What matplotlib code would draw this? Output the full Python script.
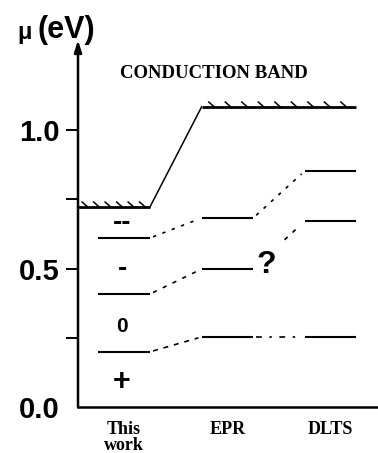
import numpy as np
import matplotlib
matplotlib.use("Agg")
import matplotlib.pyplot as plt

# ---- data ----
columns = ["This\nwork", "EPR", "DLTS"]
col_x = [1, 2, 3]
band_edge = [0.722, 1.083, 1.083]
levels_this = [0.610, 0.408, 0.199]
levels_epr = [0.682, 0.498, 0.253]
levels_dlts = [0.852, 0.671, 0.253]
charge_labels = ["--", "-", "0", "+"]
charge_y = [0.664, 0.498, 0.289, 0.09]
ytick_vals = [0.0, 0.25, 0.5, 0.75, 1.0]
ytick_labels = ["0.0", "", "0.5", "", "1.0"]

SANS = "Liberation Sans"
SERIF = "Liberation Serif"

fig = plt.figure(figsize=(3.78, 4.53), dpi=100)
ax = fig.add_axes([78/378, 46/453, 1 - 78/378, (407-40)/453])
ax.set_xlim(0.553, 3.46)
ax.set_ylim(0, 1.325)

hw = 0.25  # level half width
levels = [levels_this, levels_epr, levels_dlts]

# levels
for xc, lv in zip(col_x, levels):
    for y in lv:
        ax.plot([xc - hw, xc + hw], [y, y], color="black", lw=1.5, solid_capstyle="butt")

# connectors
styles = [[(0, (2, 4)), (0, (2, 4))],
          [(0, (2.5, 4)), (0, (2.5, 4))],
          [(0, (3, 3.5)), (0, (3.5, 4.5, 1.5, 4.5))]]
for r in range(3):
    for c in range(2):
        x0, x1 = col_x[c] + hw, col_x[c + 1] - hw
        y0, y1 = levels[c][r], levels[c + 1][r]
        if r == 1 and c == 1:
            # partial, after the "?"
            t0 = 0.55
            x0, y0 = x0 + t0 * (x1 - x0), y0 + t0 * (y1 - y0)
            x1, y1 = x1 - 0.02, y1 - 0.02 * (y1 - y0) / (x1 - x0)
        ax.plot([x0 + 0.03, x1 - 0.03], [y0 + (y1 - y0) * 0.03 / (x1 - x0), y1 - (y1 - y0) * 0.03 / (x1 - x0)],
                color="black", lw=1.2, linestyle=styles[r][c])

# conduction band
xl = ax.get_xlim()[0]
ax.plot([xl, col_x[0] + hw], [band_edge[0]] * 2, color="black", lw=2, solid_capstyle="butt")
ax.plot([col_x[0] + hw, col_x[1] - hw], [band_edge[0], band_edge[1]], color="black", lw=1.1)
ax.plot([col_x[1] - hw, col_x[2] + hw], [band_edge[1], band_edge[2]], color="black", lw=2, solid_capstyle="butt")

# hatch marks above band
def hatches(xa, xb, y, n):
    for xs in np.linspace(xa, xb, n):
        ax.plot([xs, xs + 0.055], [y + 0.018, y], color="black", lw=1.1)

hatches(xl + 0.04, col_x[0] + hw - 0.1, band_edge[0], 6)
hatches(col_x[1] - hw + 0.07, col_x[2] + hw - 0.15, band_edge[1], 9)

# charge-state labels
for lab, y in zip(charge_labels, charge_y):
    fs = {"--": 20, "-": 20, "0": 15, "+": 22}[lab]
    ax.text(col_x[0] - 0.02, y, lab, ha="center", va="center", fontsize=fs,
            fontweight="heavy", family=SANS)

ax.text(2.38, levels_epr[1] + 0.015, "?", ha="center", va="center", fontsize=23,
        fontweight="bold", family=SANS)

ax.text(1.87, 1.205, "CONDUCTION BAND", ha="center", va="center", fontsize=13.5,
        fontweight="bold", family=SERIF)

# axes styling
for s in ["top", "right", "left"]:
    ax.spines[s].set_visible(False)
ax.spines["bottom"].set_linewidth(1.8)
ax.annotate("", xy=(0, 1.0), xytext=(0, 0), xycoords="axes fraction",
            arrowprops=dict(arrowstyle="-|>,head_length=0.7,head_width=0.22",
                            lw=1.8, color="black", shrinkA=0, shrinkB=0))

ax.set_yticks(ytick_vals)
ax.set_yticklabels(ytick_labels, fontsize=21, fontweight="bold", family=SANS)
ax.tick_params(axis="y", length=9, width=1.4, direction="out", pad=4)
ax.yaxis.get_major_ticks()[0].tick1line.set_visible(False)

ax.set_xticks(col_x)
ax.set_xticklabels(columns, fontsize=13, fontweight="bold", family=SERIF)
ax.tick_params(axis="x", length=0, pad=10)
ax.get_xticklabels()[0].set_linespacing(0.95)

# y-axis unit label
fig.text(25/378, 1 - 32/453, "μ", fontsize=17, fontweight="bold", family=SANS, ha="center", va="center")
fig.text(66/378, 1 - 30/453, "(eV)", fontsize=22, fontweight="bold", family=SANS, ha="center", va="center")

fig.savefig("out.png", dpi=100)
